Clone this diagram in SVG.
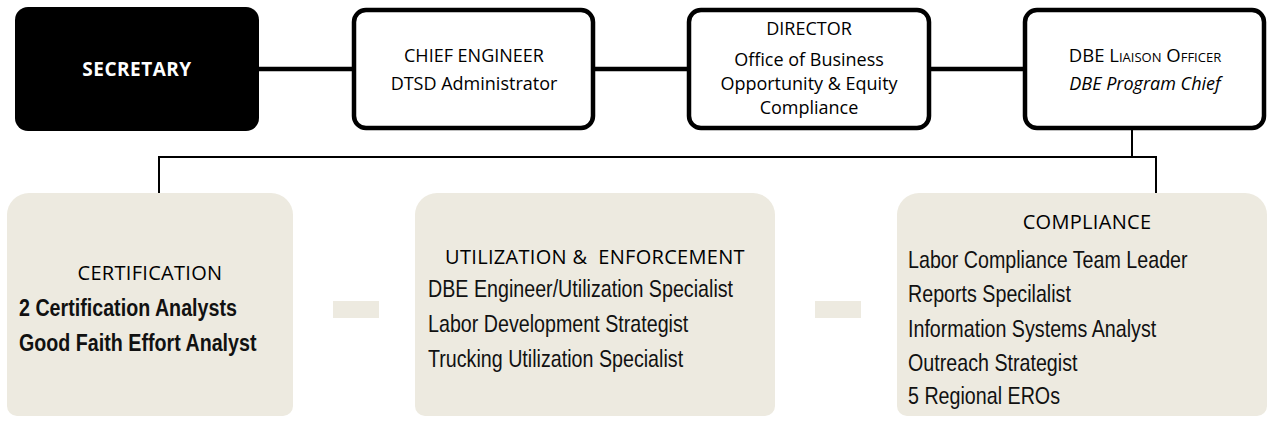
<svg xmlns="http://www.w3.org/2000/svg" width="1268" height="423" viewBox="0 0 1268 423">
<style>
.top{fill:#fff;stroke:#000;stroke-width:4.5}
.unit{fill:#EDEAE0}
.t{font-family:"Open Sans","Liberation Sans",sans-serif;font-size:18px;fill:#000;text-anchor:middle}
.h{font-family:"Open Sans","Liberation Sans",sans-serif;font-size:20px;fill:#000;text-anchor:middle;letter-spacing:0.3px}
.n{font-family:"Liberation Sans",Arial,sans-serif;font-size:24px;fill:#111}
.thick{stroke:#000;stroke-width:4.5;fill:none}
.thin{stroke:#000;stroke-width:2;fill:none}
</style>
<rect width="1268" height="423" fill="#fff"/>
<g id="connectors">
<line class="thick" x1="259" y1="69" x2="352" y2="69"/>
<line class="thick" x1="595" y1="69" x2="689" y2="69"/>
<line class="thick" x1="931" y1="69" x2="1025" y2="69"/>
<line class="thin" x1="1132" y1="130" x2="1132" y2="157"/>
<line class="thin" x1="159" y1="157" x2="1157" y2="157"/>
<line class="thin" x1="159" y1="156" x2="159" y2="194"/>
<line class="thin" x1="1156" y1="156" x2="1156" y2="194"/>
</g>
<g id="secretary">
<rect x="15" y="7" width="244" height="124" rx="13" fill="#000"/>
<text class="t" x="137" y="76" style="fill:#fff;font-weight:bold;font-size:19px;letter-spacing:0.5px">SECRETARY</text>
</g>
<g id="chief-engineer">
<rect class="top" x="354" y="10" width="239" height="118" rx="12"/>
<text class="t" x="474" y="62">CHIEF ENGINEER</text>
<text class="t" x="474" y="90">DTSD Administrator</text>
</g>
<g id="director">
<rect class="top" x="689" y="10" width="240" height="118" rx="12"/>
<text class="t" x="809" y="35">DIRECTOR</text>
<text class="t" x="809" y="66">Office of Business</text>
<text class="t" x="809" y="90">Opportunity &amp; Equity</text>
<text class="t" x="809" y="114">Compliance</text>
</g>
<g id="dbe-liaison">
<rect class="top" x="1025" y="10" width="239" height="118" rx="12"/>
<text class="t" x="1145" y="62" style="font-variant:small-caps;font-size:18.5px">DBE Liaison Officer</text>
<text class="t" x="1145" y="90" style="font-style:italic">DBE Program Chief</text>
</g>
<g id="certification">
<path class="unit" d="M7,215 a22,22 0 0 1 22,-22 H271 a22,22 0 0 1 22,22 V406 a10,10 0 0 1 -10,10 H17 a10,10 0 0 1 -10,-10 Z"/>
<text class="h" x="150" y="280">CERTIFICATION</text>
<g transform="translate(19,0) scale(0.82,1)">
<text class="n" x="0" y="316" style="font-weight:bold">2 Certification Analysts</text>
<text class="n" x="0" y="351" style="font-weight:bold">Good Faith Effort Analyst</text>
</g>
</g>
<rect class="unit" x="333" y="301" width="46" height="17"/>
<g id="utilization-enforcement">
<path class="unit" d="M415,215 a22,22 0 0 1 22,-22 H753 a22,22 0 0 1 22,22 V406 a10,10 0 0 1 -10,10 H425 a10,10 0 0 1 -10,-10 Z"/>
<text class="h" x="595" y="264" xml:space="preserve">UTILIZATION &amp;  ENFORCEMENT</text>
<g transform="translate(428,0) scale(0.82,1)">
<text class="n" x="0" y="297">DBE Engineer/Utilization Specialist</text>
<text class="n" x="0" y="332">Labor Development Strategist</text>
<text class="n" x="0" y="367">Trucking Utilization Specialist</text>
</g>
</g>
<rect class="unit" x="815" y="301" width="46" height="17"/>
<g id="compliance">
<path class="unit" d="M897,215 a22,22 0 0 1 22,-22 H1245 a22,22 0 0 1 22,22 V406 a10,10 0 0 1 -10,10 H907 a10,10 0 0 1 -10,-10 Z"/>
<text class="h" x="1087" y="229">COMPLIANCE</text>
<g transform="translate(908,0) scale(0.82,1)">
<text class="n" x="0" y="268">Labor Compliance Team Leader</text>
<text class="n" x="0" y="302">Reports Specilalist</text>
<text class="n" x="0" y="337">Information Systems Analyst</text>
<text class="n" x="0" y="371">Outreach Strategist</text>
<text class="n" x="0" y="404">5 Regional EROs</text>
</g>
</g>
</svg>
